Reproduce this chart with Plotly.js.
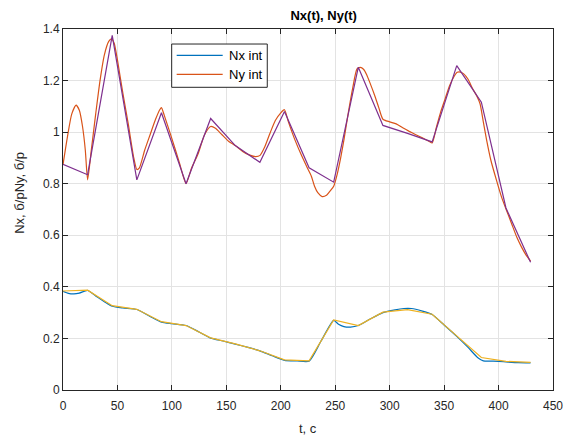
<!DOCTYPE html>
<html>
<head>
<meta charset="utf-8">
<script src="https://cdn.plot.ly/plotly-3.0.1.min.js"></script>
<style>
  html, body { margin: 0; padding: 0; background: #fff; }
  #chart { width: 579px; height: 435px; }
</style>
</head>
<body>
<div id="chart"></div>
<script>
// Sampled (node) times, shared by the piecewise-linear curves
const tNodes = [0, 22.6, 45.2, 67.8, 90.4, 113, 135.6, 158.2, 180.8, 203.4,
                226, 248.6, 271.2, 293.8, 316.4, 339, 361.6, 384.2, 406.8, 429.4];

// Ny at the nodes (purple, straight segments)
const nyNodes = [0.875, 0.835, 1.375, 0.815, 1.075, 0.800, 1.053, 0.948, 0.883, 1.080,
                 0.862, 0.806, 1.252, 1.026, 0.995, 0.962, 1.258, 1.116, 0.706, 0.495];

// Nx at the nodes (yellow, straight segments)
const nxNodes = [0.384, 0.387, 0.327, 0.313, 0.265, 0.250, 0.202, 0.179, 0.152, 0.117,
                 0.113, 0.272, 0.250, 0.302, 0.312, 0.294, 0.210, 0.126, 0.111, 0.107];

// Interpolated Ny curve
const tNyInt = [0, 4, 8, 12, 15, 18, 20.5, 22.6, 26, 30, 34, 38, 42, 44.5, 47, 50, 55, 60, 65, 67.8,
                70, 75, 80, 85, 89, 90.4, 93, 100, 107, 113, 118, 124, 130, 135.6, 140, 146, 152, 158.2,
                165, 171, 177, 181, 185, 190, 195, 200, 203.4, 207, 213, 219, 224, 228, 231, 234, 238,
                242, 245, 248.6, 252, 255, 258, 262, 266, 270, 273, 276, 279, 282, 286, 290, 293.8,
                300, 306, 312, 318, 324, 330, 336, 339, 343, 347, 351, 355, 359, 362, 365, 368, 372,
                376, 380, 383, 386, 389, 393, 398, 403, 407, 412, 417, 421, 425, 429.4];
const nyInt = [0.874, 0.98, 1.07, 1.105, 1.085, 1.02, 0.93, 0.815, 0.93, 1.07, 1.2, 1.3, 1.352, 1.362, 1.345, 1.28, 1.15, 1.03, 0.90, 0.855,
               0.86, 0.93, 0.99, 1.05, 1.088, 1.095, 1.065, 0.975, 0.88, 0.80, 0.86, 0.915, 0.99, 1.022, 1.015, 0.99, 0.965, 0.948,
               0.925, 0.912, 0.905, 0.91, 0.94, 0.995, 1.045, 1.075, 1.087, 1.04, 0.97, 0.91, 0.865, 0.83, 0.79, 0.765, 0.75,
               0.755, 0.77, 0.79, 0.84, 0.90, 0.97, 1.075, 1.17, 1.245, 1.251, 1.244, 1.222, 1.19, 1.145, 1.095, 1.05,
               1.04, 1.032, 1.017, 1.003, 0.99, 0.978, 0.965, 0.958, 1.02, 1.08, 1.13, 1.18, 1.215, 1.232, 1.233, 1.226, 1.205,
               1.17, 1.14, 1.11, 1.04, 0.97, 0.89, 0.815, 0.745, 0.70, 0.645, 0.59, 0.555, 0.525, 0.50];

// Interpolated Nx curve
const tNxInt = [0, 5, 10, 15, 22.6, 30, 40, 45.2, 55, 67.8, 80, 90.4, 100, 113, 125, 135.6, 147, 158.2,
                170, 180.8, 192, 203.4, 215, 226, 237, 248.6, 253, 258, 264, 271.2, 282, 293.8, 305, 313,
                320, 330, 339, 350, 361.6, 372, 381, 386, 392, 400, 406.8, 418, 429.4];
const nxInt = [0.383, 0.375, 0.373, 0.376, 0.386, 0.365, 0.337, 0.325, 0.318, 0.312, 0.285, 0.263, 0.257, 0.250, 0.225, 0.201, 0.19, 0.178,
               0.165, 0.152, 0.133, 0.115, 0.113, 0.112, 0.19, 0.27, 0.255, 0.246, 0.244, 0.25, 0.275, 0.300, 0.311, 0.316,
               0.316, 0.306, 0.293, 0.252, 0.208, 0.165, 0.125, 0.113, 0.112, 0.111, 0.109, 0.106, 0.105];

const seriesNames = ['Nx int', 'Ny int'];
const titleText = 'Nx(t), Ny(t)';
const xLabel = 't, c';
const yLabel = 'Nx, б/рNy, б/р';

const FONT = 'Liberation Sans, Arial, Helvetica, sans-serif';
const INK = '#262626';
const C_NX = '#0072BD', C_NY = '#D95319', C_NX_NODES = '#EDB120', C_NY_NODES = '#7E2F8E';

const traces = [
  { x: tNxInt, y: nxInt, name: seriesNames[0], mode: 'lines',
    line: { color: C_NX, width: 1.2, shape: 'spline', smoothing: 0.6 } },
  { x: tNyInt, y: nyInt, name: seriesNames[1], mode: 'lines',
    line: { color: C_NY, width: 1.2, shape: 'spline', smoothing: 0.6 } },
  { x: tNodes, y: nxNodes, mode: 'lines',
    line: { color: C_NX_NODES, width: 1.2 } },
  { x: tNodes, y: nyNodes, mode: 'lines',
    line: { color: C_NY_NODES, width: 1.2 } }
];

const axisCommon = {
  showline: true, linecolor: INK, linewidth: 1, mirror: 'ticks',
  ticks: 'inside', ticklen: 5, tickcolor: INK, tickwidth: 1,
  showgrid: true, gridcolor: '#e3e3e3', gridwidth: 1,
  zeroline: false,
  tickfont: { family: FONT, size: 12, color: INK }
};

// Boxed legend in the upper-left part of the axes (paper coordinates)
const lg = { x0: 0.2218, x1: 0.4169, y0: 0.8385, y1: 0.9584,
             lx0: 0.232, lx1: 0.3259, tx: 0.3341, rows: [0.9271, 0.8745] };
const legendColors = [C_NX, C_NY];

const shapes = [
  { type: 'rect', xref: 'paper', yref: 'paper', x0: lg.x0, x1: lg.x1, y0: lg.y0, y1: lg.y1,
    fillcolor: '#ffffff', line: { color: INK, width: 1 }, layer: 'above' }
];
const annotations = [
  { text: yLabel, xref: 'paper', yref: 'paper', x: -0.088, y: 0.546,
    xanchor: 'center', yanchor: 'middle', textangle: -90, showarrow: false,
    font: { family: FONT, size: 13, color: INK } },
  { text: xLabel, xref: 'paper', yref: 'paper', x: 0.5, y: -0.108,
    xanchor: 'center', yanchor: 'middle', showarrow: false,
    font: { family: FONT, size: 13, color: INK } }
];
seriesNames.forEach((name, i) => {
  shapes.push({ type: 'line', xref: 'paper', yref: 'paper',
                x0: lg.lx0, x1: lg.lx1, y0: lg.rows[i], y1: lg.rows[i],
                line: { color: legendColors[i], width: 1.2 }, layer: 'above' });
  annotations.push({ text: name, xref: 'paper', yref: 'paper', x: lg.tx, y: lg.rows[i],
                     xanchor: 'left', yanchor: 'middle', showarrow: false,
                     font: { family: FONT, size: 13, color: '#000' } });
});

const layout = {
  width: 579, height: 435,
  margin: { l: 63, r: 26, t: 29, b: 45 },
  paper_bgcolor: '#ffffff', plot_bgcolor: '#ffffff',
  font: { family: FONT, color: INK },
  showlegend: false,
  title: { text: '<b>' + titleText + '</b>', x: 0.532, xref: 'paper', xanchor: 'center',
           y: 0.965, yref: 'container', yanchor: 'middle',
           font: { family: FONT, size: 13, color: '#000' } },
  xaxis: Object.assign({}, axisCommon, {
    range: [0, 450], tickvals: [0, 50, 100, 150, 200, 250, 300, 350, 400, 450],
    ticklabelstandoff: 5
  }),
  yaxis: Object.assign({}, axisCommon, {
    range: [0, 1.4], tickvals: [0, 0.2, 0.4, 0.6, 0.8, 1, 1.2, 1.4],
    ticktext: ['0', '0.2', '0.4', '0.6', '0.8', '1', '1.2', '1.4']
  }),
  shapes: shapes,
  annotations: annotations
};

Plotly.newPlot('chart', traces, layout, { displayModeBar: false, staticPlot: true });
</script>
</body>
</html>
